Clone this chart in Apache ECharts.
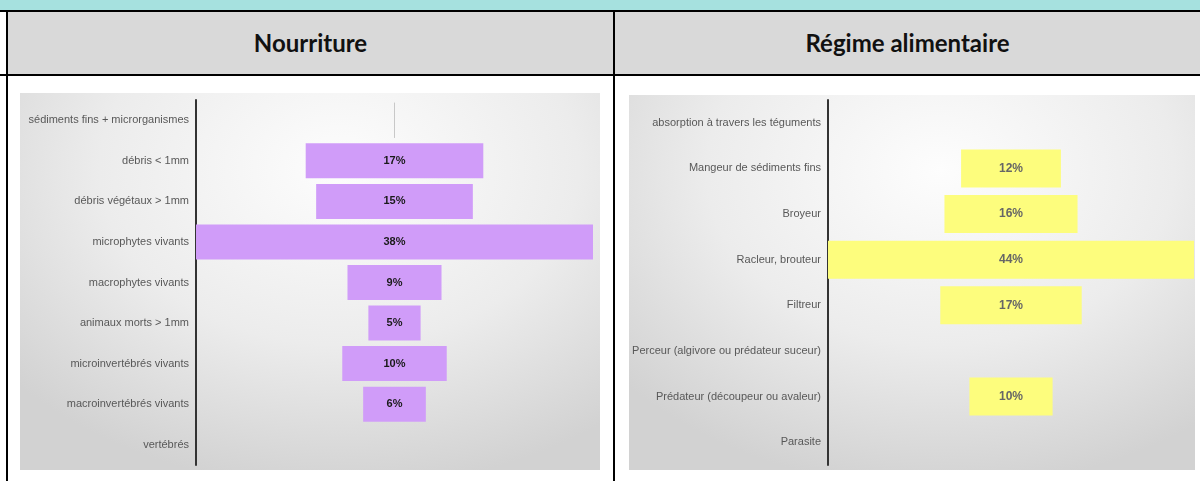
<!DOCTYPE html>
<html>
<head>
<meta charset="utf-8">
<script src="https://cdn.jsdelivr.net/npm/echarts@6/dist/echarts.min.js"></script>
<style>
  html, body { margin: 0; padding: 0; background: #fff; }
  #page { position: relative; width: 1200px; height: 481px; overflow: hidden; background: #fff; }
  .abs { position: absolute; }
  .head {
    position: absolute; top: 12px; height: 62px; line-height: 62px; background: #d9d9d9;
    text-align: center; font-family: Lato, "Open Sans", sans-serif; font-weight: bold;
    font-size: 24px; color: #111;
  }
  .chart {
    position: absolute;
    background: radial-gradient(ellipse 75% 85% at 55% 20%, #fdfdfd 0%, #ececec 55%, #d2d2d2 100%);
  }
</style>
</head>
<body>
<div id="page">
  <div class="abs" style="left:0;top:0;width:1200px;height:10px;background:#a6e1df;"></div>
  <div class="head" style="left:8px;width:605px;">Nourriture</div>
  <div class="head" style="left:615px;width:585px;">Régime alimentaire</div>
  <div class="abs" style="left:0;top:10px;width:1200px;height:2px;background:#000;"></div>
  <div class="abs" style="left:0;top:74px;width:1200px;height:2px;background:#000;"></div>
  <div class="abs" style="left:6px;top:10px;width:2px;height:471px;background:#000;"></div>
  <div class="abs" style="left:613px;top:10px;width:2px;height:471px;background:#000;"></div>
  <div id="food" class="chart" style="left:20px;top:93px;width:580px;height:377px;"></div>
  <div id="diet" class="chart" style="left:629px;top:95px;width:566px;height:375px;"></div>
</div>
<script>
// Nourriture
var foodCats = [
  'sédiments fins + microrganismes',
  'débris < 1mm',
  'débris végétaux > 1mm',
  'microphytes vivants',
  'macrophytes vivants',
  'animaux morts > 1mm',
  'microinvertébrés vivants',
  'macroinvertébrés vivants',
  'vertébrés'
];
var foodVals = [0, 17, 15, 38, 9, 5, 10, 6, 0];

// Régime alimentaire
var dietCats = [
  'absorption à travers les téguments',
  'Mangeur de sédiments fins',
  'Broyeur',
  'Racleur, brouteur',
  'Filtreur',
  'Perceur (algivore ou prédateur suceur)',
  'Prédateur (découpeur ou avaleur)',
  'Parasite'
];
var dietVals = [0, 12, 16, 44, 17, 0, 10, 0];

function build(domId, cats, vals, opts) {
    var chart = echarts.init(document.getElementById(domId), null, {renderer: 'canvas'});
    var maxV = Math.max.apply(null, vals);
    // invisible left part so that each bar is centred (funnel-like)
    var pad = vals.map(function (v) { return (maxV - v) / 2; });
    var shown = vals.map(function (v, i) {
        if (v === 0 && opts.zeroLine && i === 0) {
            return {value: 0, itemStyle: {borderColor: '#c8c8c8', borderWidth: 1}};
        }
        return v;
    });

    var option = {
        animation: false,
        backgroundColor: 'transparent',
        grid: opts.grid,
        xAxis: {
            type: 'value',
            min: 0,
            max: maxV,
            show: false,
            splitLine: {show: false}
        },
        yAxis: {
            type: 'category',
            inverse: true,
            data: cats,
            axisTick: {show: false},
            axisLine: {show: true, lineStyle: {color: '#333', width: 2}},
            axisLabel: {
                color: '#585858',
                fontFamily: 'Liberation Sans, Arial, sans-serif',
                fontSize: 11,
                margin: 7
            }
        },
        series: [
            {
                type: 'bar',
                stack: 'c',
                data: pad,
                barWidth: opts.barWidth,
                silent: true,
                itemStyle: {color: 'transparent'}
            },
            {
                type: 'bar',
                stack: 'c',
                data: shown,
                barWidth: opts.barWidth,
                itemStyle: {color: opts.color},
                label: {
                    show: true,
                    position: 'inside',
                    color: opts.labelColor,
                    fontWeight: 'bold',
                    fontFamily: 'Liberation Sans, Arial, sans-serif',
                    fontSize: opts.labelSize,
                    formatter: function (p) { return p.value ? p.value + '%' : ''; }
                }
            }
        ]
    };
    chart.setOption(option);
}

build('food', foodCats, foodVals, {
    grid: {left: 176, right: 7, top: 7, bottom: 5, containLabel: false},
    barWidth: 35,
    color: '#d09cf9',
    labelColor: '#1a1a1a',
    labelSize: 11,
    zeroLine: true
});

build('diet', dietCats, dietVals, {
    grid: {left: 199, right: 1, top: 5, bottom: 5, containLabel: false},
    barWidth: 38,
    color: '#fdfd7d',
    labelColor: '#666',
    labelSize: 12,
    zeroLine: false
});
</script>
</body>
</html>
